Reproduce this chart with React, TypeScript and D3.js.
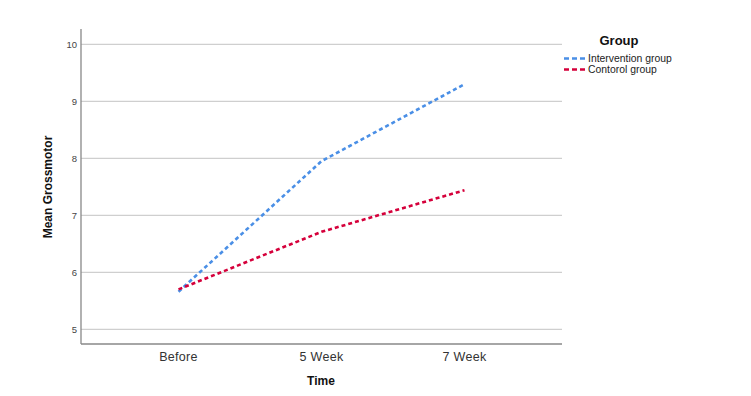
import React from "react";
import * as d3 from "d3";

const categories = ["Before", "5 Week", "7 Week"];
const intervention = [5.66, 7.95, 9.3];
const control = [5.7, 6.71, 7.44];
const yTicks = [5, 6, 7, 8, 9, 10];
const seriesNames = ["Intervention group", "Contorol group"];
const seriesColors = ["#4a8fe6", "#d5003b"];

export default function App() {
  const W = 751, H = 396;
  const left = 81, right = 562, top = 29, bottom = 344;
  const x = d3.scalePoint<string>().domain(categories).range([left, right]).padding(0.682);
  const y = d3.scaleLinear().domain([5, 10]).range([329.3, 44.3]);
  const line = d3.line<number>().x((_, i) => x(categories[i])!).y((d) => y(d));
  const series = [intervention, control];
  return (
    <svg width={W} height={H} style={{ position: "absolute", left: 0, top: 0, background: "#fff" }}
      fontFamily="Arial, 'Liberation Sans', sans-serif">
      {yTicks.map((t) => (
        <g key={t}>
          <line x1={left} x2={right} y1={y(t)} y2={y(t)} stroke="#cfcfcf" strokeWidth={1.3} />
          <text x={77} y={y(t)} dy="0.35em" textAnchor="end" fontSize={9.5} fill="#444">{t}</text>
        </g>
      ))}
      <line x1={left} x2={left} y1={top} y2={bottom} stroke="#888" strokeWidth={1.3} />
      <line x1={left} x2={right} y1={bottom} y2={bottom} stroke="#888" strokeWidth={1.3} />
      {categories.map((c) => (
        <text key={c} x={x(c)} y={357} dy="0.35em" textAnchor="middle" fontSize={12.5} letterSpacing={0.3} fill="#333">{c}</text>
      ))}
      <text x={321} y={381} dy="0.35em" textAnchor="middle" fontSize={12} fontWeight="bold" fill="#111">Time</text>
      <text transform={`translate(48,187) rotate(-90)`} dy="0.35em" textAnchor="middle" fontSize={12} fontWeight="bold" fill="#111">Mean Grossmotor</text>
      {series.map((s, i) => (
        <path key={i} d={line(s)!} fill="none" stroke={seriesColors[i]} strokeWidth={2.6} strokeDasharray="4,3" />
      ))}
      <text x={619} y={40} dy="0.35em" textAnchor="middle" fontSize={13} fontWeight="bold" fill="#111">Group</text>
      {seriesNames.map((n, i) => (
        <g key={n}>
          <line x1={564} x2={585} y1={58.5 + i * 11} y2={58.5 + i * 11} stroke={seriesColors[i]} strokeWidth={2.4} strokeDasharray="5,3" />
          <text x={588} y={58.5 + i * 11} dy="0.35em" fontSize={10.4} fill="#222">{n}</text>
        </g>
      ))}
    </svg>
  );
}
